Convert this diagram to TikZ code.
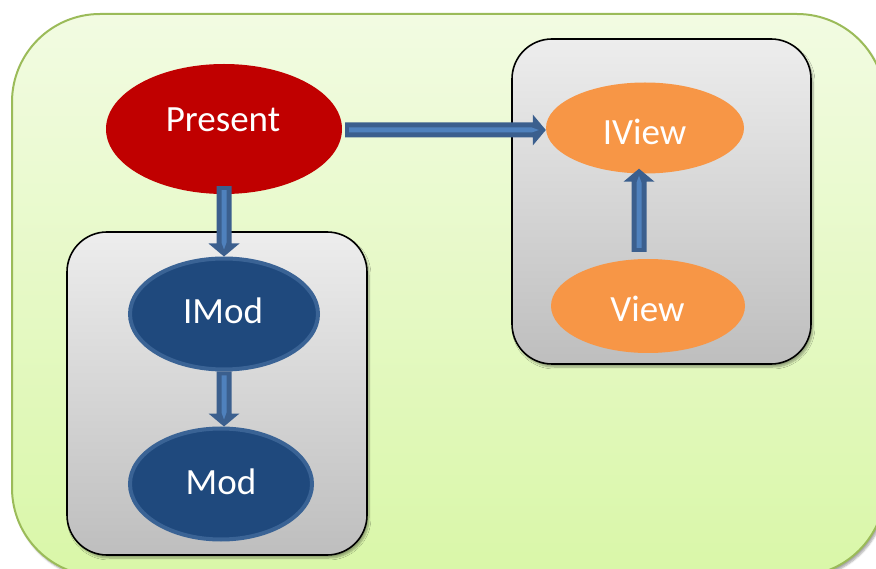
\documentclass[tikz,border=0pt]{standalone}
\usepackage{fontspec}
\setmainfont{Carlito}
\usetikzlibrary{calc,shapes.geometric,shadows.blur}

\definecolor{frameedge}{HTML}{9BBB59}
\definecolor{frametop}{HTML}{F2FBE2}
\definecolor{framebot}{HTML}{D9F7A8}
\definecolor{boxtop}{HTML}{EDEDED}
\definecolor{boxbot}{HTML}{BEBEBE}
\definecolor{presred}{HTML}{C00000}
\definecolor{modblue}{HTML}{1F497D}
\definecolor{modedge}{HTML}{3A6395}
\definecolor{vieworange}{HTML}{F79646}
\definecolor{arrowdark}{HTML}{3B5F8E}
\definecolor{arrowlight}{HTML}{4F81BD}

% block arrow from #1 to #2: dark body with a lighter stripe down the middle
\newcommand\blockarrow[2]{%
  \path (#1) coordinate (ba-s) (#2) coordinate (ba-e);
  \path ($(ba-e)!13pt!(ba-s)$) coordinate (ba-h)
        ($(ba-s)!4pt!(ba-e)$) coordinate (ba-s2)
        ($(ba-e)!7pt!(ba-s)$) coordinate (ba-t2)
        ($(ba-e)!14pt!(ba-s)$) coordinate (ba-h2);
  \fill[arrowdark]
    ($(ba-s)!7.5pt!90:(ba-e)$) -- ($(ba-h)!7.5pt!90:(ba-e)$)
    -- ($(ba-h)!15.5pt!90:(ba-e)$) -- (ba-e)
    -- ($(ba-h)!15.5pt!-90:(ba-e)$) -- ($(ba-h)!7.5pt!-90:(ba-e)$)
    -- ($(ba-s)!7.5pt!-90:(ba-e)$) -- cycle;
  \fill[arrowlight]
    ($(ba-s2)!2.5pt!90:(ba-e)$) -- ($(ba-h2)!2.5pt!90:(ba-e)$)
    -- (ba-t2)
    -- ($(ba-h2)!2.5pt!-90:(ba-e)$) -- ($(ba-s2)!2.5pt!-90:(ba-e)$) -- cycle;
}

\begin{document}
\begin{tikzpicture}[x=1pt,y=-1pt,
  softshadow/.style={blur shadow={shadow xshift=2pt, shadow yshift=-3pt,
      shadow blur steps=6, shadow opacity=35}},
  layer/.style={rectangle, draw=black, line width=1.6pt, rounded corners=40pt,
      top color=boxtop, bottom color=boxbot, softshadow, inner sep=0pt},
  blob/.style={ellipse, inner sep=0pt},
  present/.style={blob, fill=presred},
  modnode/.style={blob, fill=modblue, draw=modedge, line width=4pt},
  viewnode/.style={blob, fill=vieworange},
  caption/.style={anchor=base, inner sep=0pt, text=white,
      font=\fontsize{37}{44}\selectfont}]

\useasboundingbox (0,0) rectangle (876,569);

% outer frame
\path[draw=frameedge, line width=2pt, rounded corners=88pt,
      top color=frametop, bottom color=framebot, softshadow]
  (12,14) rectangle (885,576);

% grey layers
\node[layer, minimum width=300pt, minimum height=323pt] (modlayer) at (217,393.5) {};
\node[layer, minimum width=299pt, minimum height=325pt] (viewlayer) at (661.5,201.5) {};

% components
\node[present, minimum width=236pt, minimum height=130pt] (present) at (224,129) {};
\node[modnode, minimum width=188pt, minimum height=111pt] (imod) at (224,314) {};
\node[modnode, minimum width=182pt, minimum height=111pt] (mod) at (221,484) {};
\node[viewnode, minimum width=198pt, minimum height=91pt] (iview) at (645,128) {};
\node[viewnode, minimum width=194pt, minimum height=94pt] (view) at (648,306) {};

% their names, placed on the baseline
\node[caption] (present-text) at (223,132) {Present};
\node[caption] (imod-text) at (223,324) {IMod};
\node[caption] (mod-text) at (221,494) {Mod};
\node[caption] (iview-text) at (644.5,145) {IView};
\node[caption] (view-text) at (647.5,322) {View};

% connectors
\coordinate (p-down) at ($(present.south)+(0,-8)$);
\coordinate (imod-top) at (p-down |- imod.north);
\blockarrow{p-down}{imod-top}

\coordinate (p-right) at ($(present.east)+(3,1)$);
\coordinate (iview-left) at (iview.west |- p-right);
\blockarrow{p-right}{iview-left}

\coordinate (v-up) at ($(view.north)+(-9,-7)$);
\coordinate (iview-bot) at ($(v-up |- iview.south)+(0,-5)$);
\blockarrow{v-up}{iview-bot}

\coordinate (imod-bot) at (imod.south);
\coordinate (mod-top) at (imod.south |- mod.north);
\blockarrow{imod-bot}{mod-top}

\end{tikzpicture}
\end{document}
